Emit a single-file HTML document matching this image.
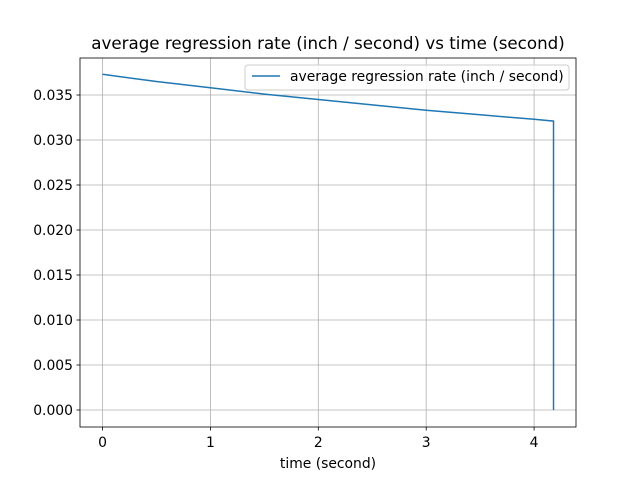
<!DOCTYPE html>
<html><head><meta charset="utf-8"><style>
body{margin:0;background:#fff;}
svg text{font-family:"DejaVu Sans","Liberation Sans",sans-serif;fill:#000;}
</style></head><body>
<svg id="chart" width="640" height="480" viewBox="0 0 640 480" xmlns="http://www.w3.org/2000/svg">
<rect width="640" height="480" fill="#fff"/>
<text x="328" y="49" text-anchor="middle" font-size="16.7">average regression rate (inch / second) vs time (second)</text>
<g id="grid"></g>
<g id="ticks"></g>
<polyline id="series" fill="none" stroke="#1f77b4" stroke-width="1.5"/>
<rect x="80" y="58" width="496" height="369" fill="none" stroke="#000" stroke-width="0.8"/>
<text x="328" y="468" text-anchor="middle" font-size="13.9">time (second)</text>
<g>
<rect x="245" y="65" width="324" height="25" rx="3" fill="#fff" fill-opacity="0.8" stroke="#ccc"/>
<line x1="252" y1="76" x2="280" y2="76" stroke="#1f77b4" stroke-width="1.5"/>
<text x="290" y="81" font-size="13.9">average regression rate (inch / second)</text>
</g>
</svg>
<script>
const times=[0,0.5,1,1.5,2,2.5,3,3.5,4,4.18,4.18];
const rates=[0.0373,0.0365,0.0358,0.0351,0.0345,0.0339,0.0333,0.0328,0.0323,0.0321,0];
const xTicks=[0,1,2,3,4];
const yTicks=[0,0.005,0.010,0.015,0.020,0.025,0.030,0.035];
const xs=v=>102.5+v*107.9;
const ys=v=>410-v*9000;
const NS="http://www.w3.org/2000/svg";
const grid=document.getElementById('grid'),tk=document.getElementById('ticks');
function mk(tag,attrs,parent){const e=document.createElementNS(NS,tag);for(const k in attrs)e.setAttribute(k,attrs[k]);parent.appendChild(e);return e;}
xTicks.forEach(t=>{
 const g=mk('line',{x1:xs(t),x2:xs(t),y1:58,y2:427,stroke:'#b0b0b0','stroke-width':0.8},grid);
 
 
 mk('line',{x1:xs(t),x2:xs(t),y1:427,y2:430.5,stroke:'#000','stroke-width':0.8},tk);
 const l=mk('text',{x:xs(t),y:447,'text-anchor':'middle','font-size':13.9},tk);
 l.textContent=t;
 
 
});
yTicks.forEach(t=>{
 const g=mk('line',{x1:80,x2:576,y1:ys(t),y2:ys(t),stroke:'#b0b0b0','stroke-width':0.8},grid);
 
 
 mk('line',{x1:76.5,x2:80,y1:ys(t),y2:ys(t),stroke:'#000','stroke-width':0.8},tk);
 const l=mk('text',{x:73,y:ys(t)+5,'text-anchor':'end','font-size':13.9},tk);
 l.textContent=t.toFixed(3);
 
 
});
document.getElementById('series').setAttribute('points',times.map((t,i)=>xs(t)+','+ys(rates[i])).join(' '));
</script>
</body></html>
